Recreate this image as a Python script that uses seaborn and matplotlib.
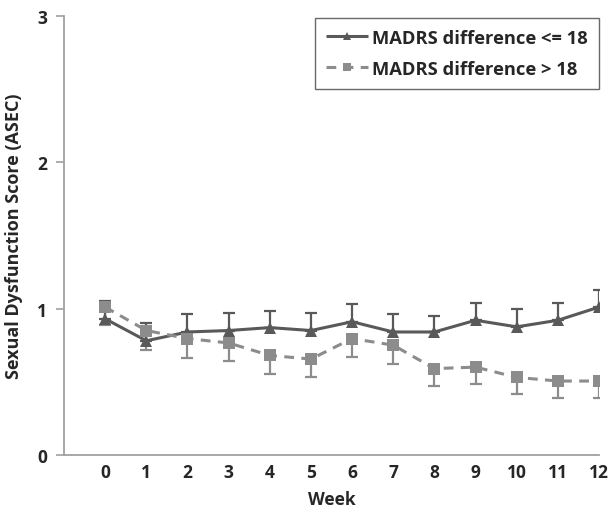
import matplotlib
matplotlib.use("Agg")
import matplotlib.pyplot as plt
import seaborn as sns
import pandas as pd
import numpy as np

weeks = list(range(13))
low_mean = [0.93, 0.78, 0.84, 0.85, 0.87, 0.85, 0.91, 0.84, 0.84, 0.92, 0.875, 0.92, 1.01]
low_err = [0.12, 0.12, 0.12, 0.12, 0.11, 0.12, 0.12, 0.12, 0.11, 0.12, 0.12, 0.12, 0.12]
high_mean = [1.01, 0.85, 0.795, 0.765, 0.68, 0.655, 0.795, 0.75, 0.59, 0.60, 0.53, 0.505, 0.505]
high_err = [0.12, 0.13, 0.13, 0.125, 0.125, 0.125, 0.125, 0.13, 0.12, 0.115, 0.115, 0.115, 0.115]
labels = ["MADRS difference <= 18", "MADRS difference > 18"]

sns.set_theme(style="white")
plt.rcParams['font.family'] = ['Open Sans', 'DejaVu Sans']

dark = "#595959"
light = "#8c8c8c"
txt = "#262626"

df = pd.DataFrame({
    "Week": weeks * 2,
    "Score": low_mean + high_mean,
    "Group": [labels[0]] * 13 + [labels[1]] * 13,
})

fig = plt.figure(figsize=(6.12, 5.10), dpi=100)
ax = fig.add_axes([0.1046, 0.1059, 0.8742, 0.8614])

# error bars: lower group upward, higher group downward
ax.errorbar(weeks, high_mean, yerr=[high_err, np.zeros(13)], fmt="none",
            ecolor=light, elinewidth=1.6, capsize=4, capthick=1.6, zorder=2)
ax.errorbar(weeks, low_mean, yerr=[np.zeros(13), low_err], fmt="none",
            ecolor=dark, elinewidth=1.6, capsize=4, capthick=1.6, zorder=2)

sns.lineplot(data=df, x="Week", y="Score", hue="Group", style="Group",
             palette=[dark, light], markers=["^", "s"],
             dashes=[(1, 0), (3.2, 2.4)], markersize=8.5, linewidth=2.2,
             markeredgewidth=0, ax=ax, zorder=3)

ax.set_xlim(-1, 12)
ax.set_ylim(0, 3)
ax.set_xticks(weeks)
ax.set_yticks([0, 1, 2, 3])
ax.tick_params(axis="x", length=0, pad=6, labelsize=12.5, labelcolor=txt)
ax.tick_params(axis="y", length=6, width=1.2, color="#a0a0a0", pad=6, labelsize=12.5, labelcolor=txt, left=True)
for lab in ax.get_xticklabels() + ax.get_yticklabels():
    lab.set_fontweight("bold")

for s in ["top", "right"]:
    ax.spines[s].set_visible(False)
for s in ["left", "bottom"]:
    ax.spines[s].set_color("#a0a0a0")
    ax.spines[s].set_linewidth(1.3)

ax.set_xlabel("Week", fontsize=12.5, fontweight="bold", color=txt, labelpad=6)
ax.set_ylabel("Sexual Dysfunction Score (ASEC)", fontsize=13, fontweight="bold", color=txt, labelpad=10)

leg = ax.legend(loc="upper right", bbox_to_anchor=(1.0, 0.995), frameon=True,
                fancybox=False, edgecolor="#444444", fontsize=13.2,
                handlelength=2.3, borderpad=0.6, labelspacing=0.7, handletextpad=0.25,
                borderaxespad=0.0)
leg.get_frame().set_linewidth(1.0)
for t in leg.get_texts():
    t.set_fontweight("bold")
    t.set_color(txt)
for h in leg.legend_handles:
    h.set_markersize(6)

fig.savefig("out.png", dpi=100)
